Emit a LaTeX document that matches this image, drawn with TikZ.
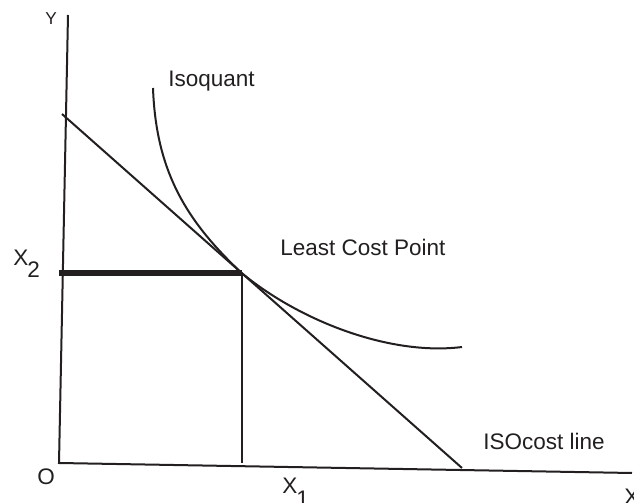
\documentclass[tikz,border=0pt]{standalone}
\usepackage{fontspec}
\setmainfont{Liberation Sans}
\usetikzlibrary{calc,positioning}
\definecolor{ink}{RGB}{35,31,32}
\tikzset{
  axis/.style={ink,line width=1pt,line join=miter},
  budget/.style={ink,line width=1pt},
  isoq/.style={ink,line width=1pt},
  guide/.style={ink,line width=3pt},
  drop/.style={ink,line width=0.6pt},
  lab/.style={text=ink,font=\fontsize{11.25}{13}\selectfont,inner sep=0pt,
    anchor=base west},
  smalllab/.style={lab,font=\fontsize{8.6}{10}\selectfont}
}
\newcommand{\lowsub}[1]{\kern-0.05em\raisebox{-0.55em}{#1}}

\begin{document}
\begin{tikzpicture}[x=0.5pt,y=-0.5pt]
\useasboundingbox (0,0) rectangle (634,503);
% ---------------- axes ----------------
\coordinate (O) at (59,463);
\coordinate (Ytop) at (68,15);
\coordinate (Xend) at (632,473);
\draw[axis] (Ytop) -- (O) -- (Xend);
% ---------------- isocost line, isoquant, least cost point ----------------
\coordinate (A) at (62,114);
\coordinate (B) at (462,468);
\coordinate (E) at ($(A)!0.45!(B)$);
\draw[budget] (A) -- (B);
\draw[isoq] (153,88) .. controls (156,170) and (185,220) .. (E)
  .. controls (300,321) and (390,356) .. (462,347);
\draw[guide] (E) -- (E -| O);
\draw[drop] (E) -- (E |- O);
% ---------------- labels ----------------
\node[smalllab] (ylab) at (45,25) {Y};
\node[lab] (x2lab) at (13,265) {X\lowsub{2}};
\node[lab] (olab) at (37,485) {O};
\node[lab] (x1lab) at (282,494) {X\lowsub{1}};
\node[lab] (xlab) at (624,504) {X};
\node[lab] (isoqlab) at (168,86) {Isoquant};
\node[lab] (lcplab) at (280,256) {Least Cost Point};
\node[lab] (costlab) at (483,450) {ISOcost line};
\end{tikzpicture}
\end{document}
